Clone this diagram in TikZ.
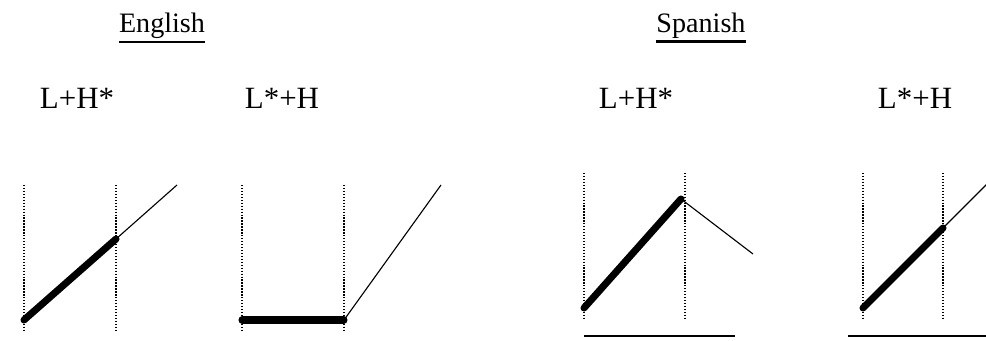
\documentclass[tikz,border=0pt]{standalone}
\usepackage{fontspec}
\setmainfont{Liberation Serif}
\usetikzlibrary{positioning}

\begin{document}
\begin{tikzpicture}[
  x=0.025cm, y=-0.025cm,
  lang/.style={anchor=base, inner sep=0pt, font=\fontsize{20}{24}\selectfont},
  accent/.style={anchor=base, inner sep=0pt, font=\fontsize{22}{26}\selectfont},
  rule/.style={line width=1.5pt},
  guide/.style={line width=0.9pt, dash pattern=on 0.9pt off 1.2pt},
  held/.style={line width=5pt, line cap=round},
  trail/.style={line width=0.8pt},
  span/.style={line width=1.2pt}
]
  \useasboundingbox (0,0) rectangle (986,341);
  \clip (0,0) rectangle (986,341);

  \node[lang] (english) at (162,33) {English};
  \node[lang] (spanish) at (701,33) {Spanish};
  \draw[rule] ([yshift=-1.6pt]english.south west) -- ([yshift=-1.6pt]english.south east);
  \draw[rule] ([yshift=-1.6pt]spanish.south west) -- ([yshift=-1.6pt]spanish.south east);

  \node[accent] (enLH) at (77,109) {L+H*};
  \node[accent] (enLsH) at (282,109) {L*+H};
  \node[accent] (esLH) at (636,109) {L+H*};
  \node[accent] (esLsH) at (915,109) {L*+H};

  \foreach \x/\t/\b in {24/185/332, 116/185/332, 242/185/332, 344/185/332,
                        584/173/320, 685/173/320, 863/173/320, 943/173/320}
    \draw[guide] (\x,\t) -- (\x,\b);

  \coordinate (ea0) at (24,320);
  \coordinate (ea1) at (116,239);
  \coordinate (ea2) at (177,185);
  \coordinate (eb0) at (242,320);
  \coordinate (eb1) at (344,320);
  \coordinate (eb2) at (441,185);
  \coordinate (sa0) at (584,308);
  \coordinate (sa1) at (681,199);
  \coordinate (sa2) at (753,254);
  \coordinate (sb0) at (863,308);
  \coordinate (sb1) at (943,228);
  \coordinate (sb2) at (1000,171);
  \coordinate (saL) at (584,336);
  \coordinate (saR) at (735,336);
  \coordinate (sbL) at (848,336);
  \coordinate (sbR) at (1000,336);

  \draw[held]  (ea0) -- (ea1);
  \draw[trail] (ea1) -- (ea2);
  \draw[held]  (eb0) -- (eb1);
  \draw[trail] (eb1) -- (eb2);
  \draw[held]  (sa0) -- (sa1);
  \draw[trail] (sa1) -- (sa2);
  \draw[held]  (sb0) -- (sb1);
  \draw[trail] (sb1) -- (sb2);
  \draw[span]  (saL) -- (saR);
  \draw[span]  (sbL) -- (sbR);
\end{tikzpicture}
\end{document}
